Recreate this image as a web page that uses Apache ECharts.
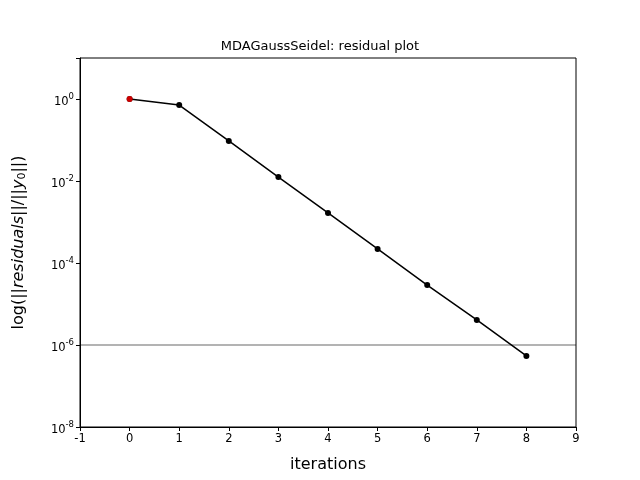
<!DOCTYPE html>
<html><head><meta charset="utf-8">
<script src="https://cdn.jsdelivr.net/npm/echarts@6/dist/echarts.min.js"></script>
<style>html,body{margin:0;padding:0;background:#fff}#c{width:640px;height:480px}</style>
</head><body><div id="c"></div>
<script>
const iterations = [0,1,2,3,4,5,6,7,8];
const residuals = [1, 0.71, 0.095, 0.0125, 0.00166, 2.2e-4, 2.9e-5, 4.1e-6, 5.4e-7];
const threshold = 1e-6;
const xRange = [-1, 9];
const chart = echarts.init(document.getElementById('c'));
const font = 'DejaVu Sans';
chart.setOption({
  animation:false,
  title:{text:'MDAGaussSeidel: residual plot',left:'center',top:35,textStyle:{fontFamily:font,fontSize:13,fontWeight:'normal',color:'#000'}},
  grid:{left:80,right:64,top:58,bottom:53,show:true,borderColor:'#000',borderWidth:1,backgroundColor:'transparent'},
  xAxis:{type:'value',min:xRange[0],max:xRange[1],interval:1,name:'iterations',nameLocation:'middle',nameGap:30,
    nameTextStyle:{fontFamily:font,fontSize:16,color:'#000'},
    axisLine:{onZero:false,lineStyle:{color:'#000'}},axisTick:{length:4,lineStyle:{color:'#000'}},
    axisLabel:{fontFamily:font,fontSize:11.5,color:'#000',margin:6},splitLine:{show:false}},
  yAxis:{type:'log',logBase:10,min:1e-8,max:10,interval:2,
    name:'{n|log(||}{i|residuals}{n|||/||}{i|y}{s|0}{n|||)}',nameLocation:'middle',nameGap:52,nameRotate:90,
    nameTextStyle:{rich:{n:{fontFamily:font,fontSize:16,color:'#000'},i:{fontFamily:font,fontSize:16,fontStyle:'italic',color:'#000'},s:{fontFamily:font,fontSize:11,color:'#000',verticalAlign:'bottom',padding:[8,0,0,0]}}},
    axisLine:{show:true,onZero:false,lineStyle:{color:'#000'}},axisTick:{length:4,lineStyle:{color:'#000'}},
    axisLabel:{color:'#000',margin:6,formatter:function(v){const e=Math.round(Math.log10(v));if(e%2!==0)return '';return '{b|10}{e|'+e+'}';},
      rich:{b:{fontFamily:font,fontSize:11.5,color:'#000',padding:[6,0,0,0]},e:{fontFamily:font,fontSize:8.5,color:'#000',padding:[0,0,4,0]}}},
    splitLine:{show:false}},
  series:[
    {type:'line',data:xRange.map(x=>[x,threshold]),symbol:'none',lineStyle:{color:'#000',width:0.6},silent:true,z:1},
    {type:'line',data:iterations.map((x,i)=>[x,residuals[i]]),symbol:'circle',symbolSize:6,
     lineStyle:{color:'#000',width:1.5},itemStyle:{color:'#000'},z:3},
    {type:'scatter',data:[[iterations[0],residuals[0]]],symbolSize:6,itemStyle:{color:'#ff0000'},z:5}
  ]
});
</script></body></html>
